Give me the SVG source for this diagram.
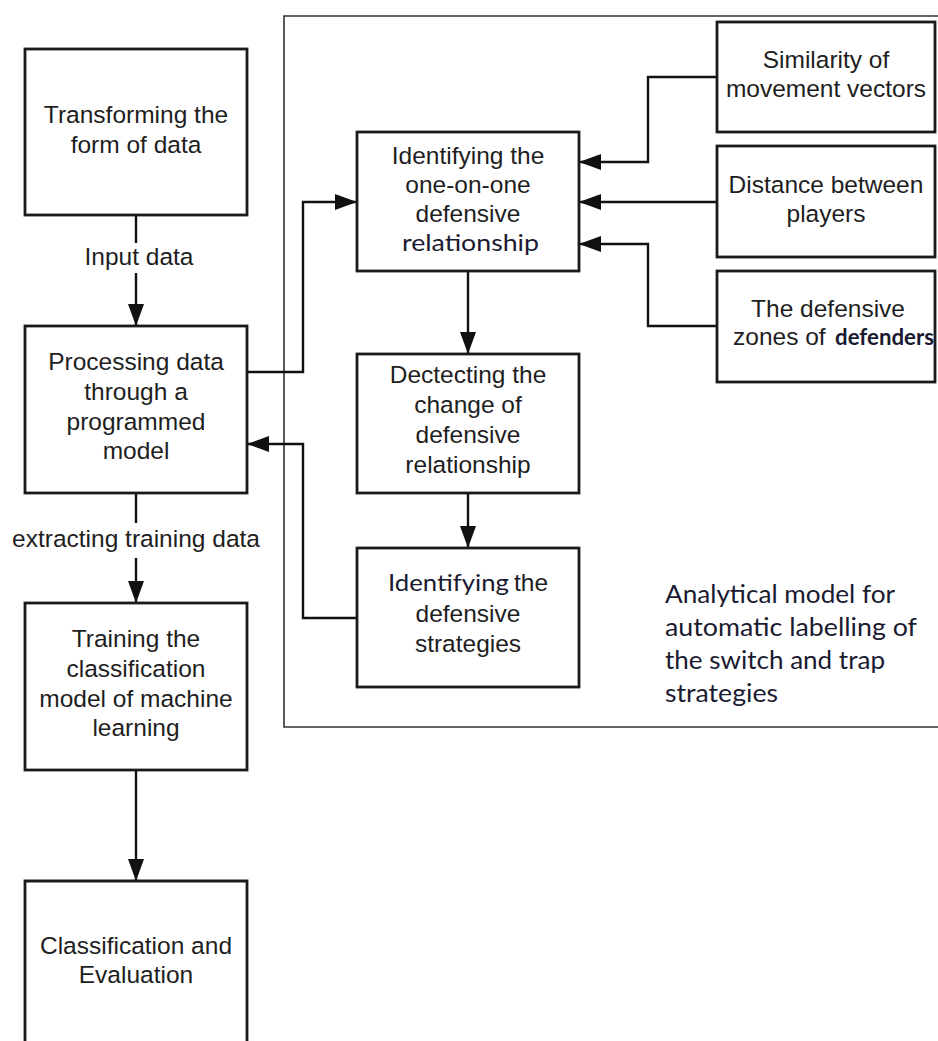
<svg xmlns="http://www.w3.org/2000/svg" width="938" height="1041" viewBox="0 0 938 1041">
<defs>
<style>
.box{fill:#fff;stroke:#1a1a1a;stroke-width:2.8}
.frame{fill:none;stroke:#333;stroke-width:1.6}
.t{font-family:"Liberation Sans",Arial,sans-serif;font-size:24.5px;fill:#1e1e1e;text-anchor:middle}
.c{font-family:Lato,"Open Sans",sans-serif;fill:#1a1a30}
.conn{fill:none;stroke:#111;stroke-width:2.4}
</style>
<marker id="ah" markerWidth="22" markerHeight="16" refX="22" refY="8" orient="auto" markerUnits="userSpaceOnUse">
<path d="M0,0 L22,8 L0,16 z" fill="#111"/>
</marker>
</defs>
<rect width="938" height="1041" fill="#fff"/>

<g id="frame">
<path class="frame" d="M945 16 H284 V727 H945"/>
<text class="c" font-size="25" x="665" y="603" textLength="230" lengthAdjust="spacingAndGlyphs">Analytical model for</text>
<text class="c" font-size="25" x="665" y="636" textLength="252" lengthAdjust="spacingAndGlyphs">automatic labelling of</text>
<text class="c" font-size="25" x="665" y="669" textLength="220" lengthAdjust="spacingAndGlyphs">the switch and trap</text>
<text class="c" font-size="25" x="665" y="702" textLength="113" lengthAdjust="spacingAndGlyphs">strategies</text>
</g>

<g id="connectors">
<path class="conn" d="M136 215 V243"/>
<path class="conn" d="M136 273 V326" marker-end="url(#ah)"/>
<path class="conn" d="M136 493 V523"/>
<path class="conn" d="M136 558 V603" marker-end="url(#ah)"/>
<path class="conn" d="M136 770 V881" marker-end="url(#ah)"/>
<path class="conn" d="M247 372 H303 V202 H357" marker-end="url(#ah)"/>
<path class="conn" d="M357 618 H303 V444 H247" marker-end="url(#ah)"/>
<path class="conn" d="M468 271 V354" marker-end="url(#ah)"/>
<path class="conn" d="M468 493 V548" marker-end="url(#ah)"/>
<path class="conn" d="M717 77 H648 V162 H579" marker-end="url(#ah)"/>
<path class="conn" d="M717 202 H579" marker-end="url(#ah)"/>
<path class="conn" d="M717 326 H648 V244 H579" marker-end="url(#ah)"/>
<text class="t" x="139" y="265">Input data</text>
<text class="t" x="136" y="547">extracting training data</text>
</g>

<g id="transforming">
<rect class="box" x="25" y="49" width="222" height="166"/>
<text class="t" x="136" y="123">Transforming the</text>
<text class="t" x="136" y="153">form of data</text>
</g>

<g id="processing">
<rect class="box" x="25" y="326" width="222" height="167"/>
<text class="t" x="136" y="370">Processing data</text>
<text class="t" x="136" y="400">through a</text>
<text class="t" x="136" y="430">programmed</text>
<text class="t" x="136" y="459">model</text>
</g>

<g id="training">
<rect class="box" x="25" y="603" width="222" height="167"/>
<text class="t" x="136" y="647">Training the</text>
<text class="t" x="136" y="677">classification</text>
<text class="t" x="136" y="707">model of machine</text>
<text class="t" x="136" y="736">learning</text>
</g>

<g id="classification">
<path class="box" d="M25 1050 V881 H247 V1050"/>
<text class="t" x="136" y="954">Classification and</text>
<text class="t" x="136" y="983">Evaluation</text>
</g>

<g id="identify-relationship">
<rect class="box" x="357" y="132" width="222" height="139"/>
<text class="t" x="468" y="164">Identifying the</text>
<text class="t" x="468" y="193">one-on-one</text>
<text class="t" x="468" y="222">defensive</text>
<text class="c" font-size="24" x="402" y="251" textLength="137" lengthAdjust="spacingAndGlyphs">relationship</text>
</g>

<g id="detecting-change">
<rect class="box" x="357" y="354" width="222" height="139"/>
<text class="t" x="468" y="383">Dectecting the</text>
<text class="t" x="468" y="413">change of</text>
<text class="t" x="468" y="443">defensive</text>
<text class="t" x="468" y="473">relationship</text>
</g>

<g id="identify-strategies">
<rect class="box" x="357" y="548" width="222" height="139"/>
<text class="c" font-size="24" x="388" y="591" textLength="121" lengthAdjust="spacingAndGlyphs">Identifying</text>
<text class="t" x="514" y="591" style="text-anchor:start">the</text>
<text class="t" x="468" y="622">defensive</text>
<text class="t" x="468" y="652">strategies</text>
</g>

<g id="similarity">
<rect class="box" x="717" y="22" width="218" height="110"/>
<text class="t" x="826" y="68">Similarity of</text>
<text class="t" x="826" y="97">movement vectors</text>
</g>

<g id="distance">
<rect class="box" x="717" y="146" width="218" height="111"/>
<text class="t" x="826" y="193">Distance between</text>
<text class="t" x="826" y="222">players</text>
</g>

<g id="zones">
<rect class="box" x="717" y="271" width="218" height="111"/>
<text class="t" x="828" y="317">The defensive</text>
<text class="t" x="733" y="345" style="text-anchor:start">zones of</text>
<text class="c" font-size="22" font-weight="bold" x="835" y="345" textLength="99" lengthAdjust="spacingAndGlyphs">defenders</text>
</g>
</svg>
